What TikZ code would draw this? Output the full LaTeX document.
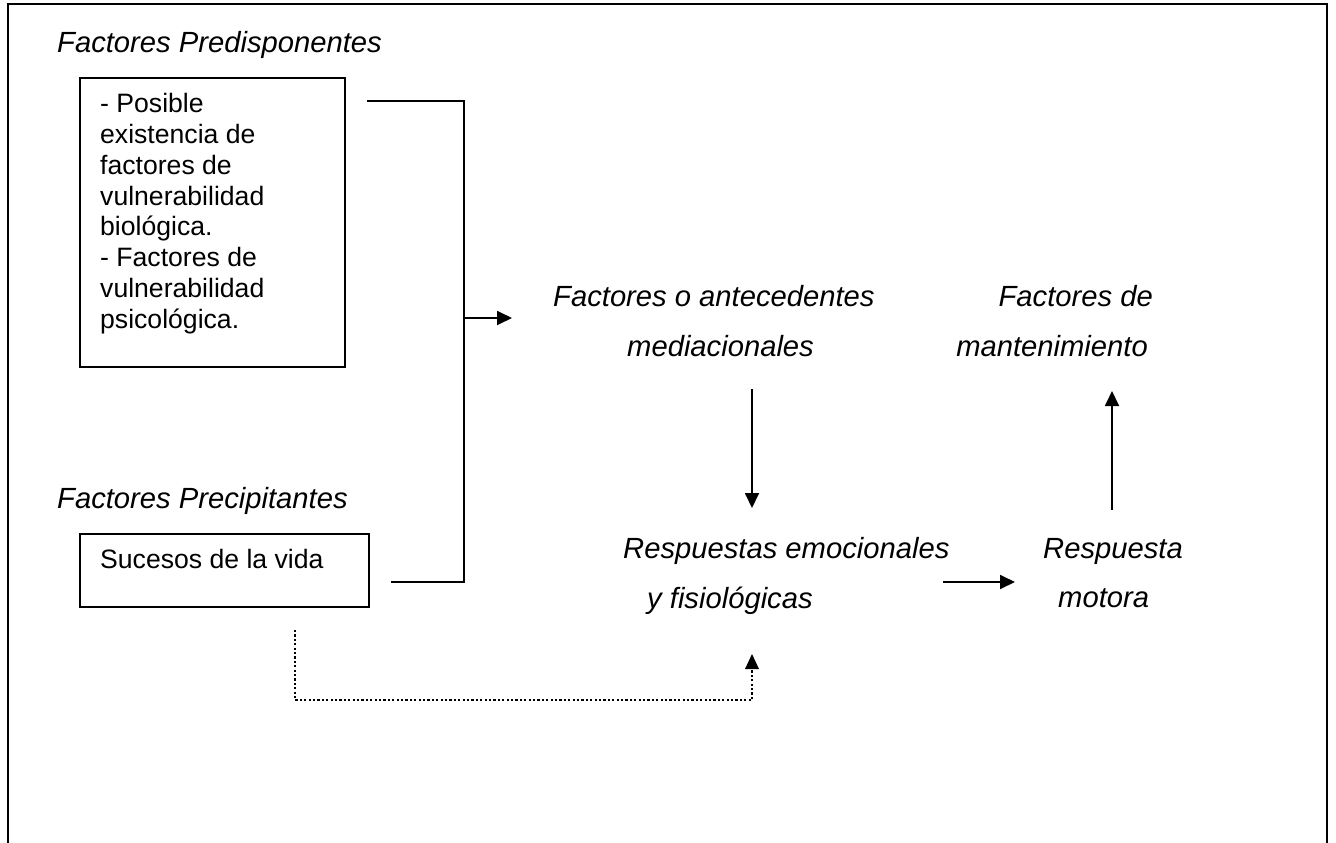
\documentclass[tikz,border=0pt]{standalone}
\usepackage{fontspec}
\setmainfont{Liberation Sans}
\usetikzlibrary{arrows.meta}
\tikzset{
  bodyfont/.style={font=\fontsize{26.6}{30.8}\selectfont, inner sep=0pt},
  itfont/.style={font=\fontsize{29.2}{34}\selectfont\itshape, inner sep=0pt},
  boxnode/.style={draw, line width=1.8pt, inner sep=0pt},
  conn/.style={line width=1.8pt},
  arr/.style={line width=1.8pt, -{Triangle[length=15pt,width=14pt]}},
  dotconn/.style={line width=2.6pt, dash pattern=on 2.2pt off 2.2pt, -{Triangle[length=15pt,width=14pt,line width=0pt]}},
}
\begin{document}
\begin{tikzpicture}[x=1pt,y=-1pt]
\useasboundingbox (0,0) rectangle (1336,843);
% frame
\draw[line width=1.8pt] (8,843) -- (8,4) -- (1327,4) -- (1327,843);

% headings
\node[itfont, anchor=base west] (hpre) at (57,53) {Factores Predisponentes};
\node[itfont, anchor=base west] (hprec) at (57,508) {Factores Precipitantes};

% boxes
\node[boxnode, minimum width=265pt, minimum height=289pt, anchor=north west] (pre) at (79,77) {};
\node[bodyfont, anchor=base west] (pretext) at (100,112.7) {\begin{tabular}[t]{@{}l@{}}
- Posible\\ existencia de\\ factores de\\ vulnerabilidad\\ biológica.\\ - Factores de\\ vulnerabilidad\\ psicológica.\end{tabular}};
\node[boxnode, minimum width=289pt, minimum height=73pt, anchor=north west] (prec) at (79,533) {};
\node[bodyfont, anchor=base west] (prectext) at (100,568) {Sucesos de la vida};

% italic labels
\node[itfont, anchor=base west] (med1) at (553,306) {Factores o antecedentes};
\node[itfont, anchor=base west] (med2) at (627,356) {mediacionales};
\node[itfont, anchor=base east] (man1) at (1153,306) {Factores de};
\node[itfont, anchor=base east] (man2) at (1148,356) {mantenimiento};
\node[itfont, anchor=base west] (emo1) at (623,558) {Respuestas emocionales};
\node[itfont, anchor=base west] (emo2) at (647,608) {y fisiológicas};
\node[itfont, anchor=base west] (mot1) at (1043,558) {Respuesta};
\node[itfont, anchor=base west] (mot2) at (1058,607) {motora};

% connector coordinates
\coordinate (c1) at (367,101);
\coordinate (j1) at (464,101);
\coordinate (j2) at (464,582);
\coordinate (c2) at (391,582);
\coordinate (jm) at (464,318);
\coordinate (am) at (512,318);
\coordinate (d1) at (752,389);
\coordinate (d2) at (752,508);
\coordinate (h1) at (943,582);
\coordinate (h2) at (1015,582);
\coordinate (u1) at (1112,510);
\coordinate (u2) at (1112,391);
\coordinate (p1) at (295,630);
\coordinate (p2) at (295,700);
\coordinate (p3) at (752,700);
\coordinate (p4) at (752,654);

\draw[conn] (c1) -- (j1) -- (j2) -- (c2);
\draw[arr] (jm) -- (am);
\draw[arr] (d1) -- (d2);
\draw[arr] (h1) -- (h2);
\draw[arr] (u1) -- (u2);
\draw[dotconn] (p1) -- (p2) -- (p3) -- (p4);
\end{tikzpicture}
\end{document}
